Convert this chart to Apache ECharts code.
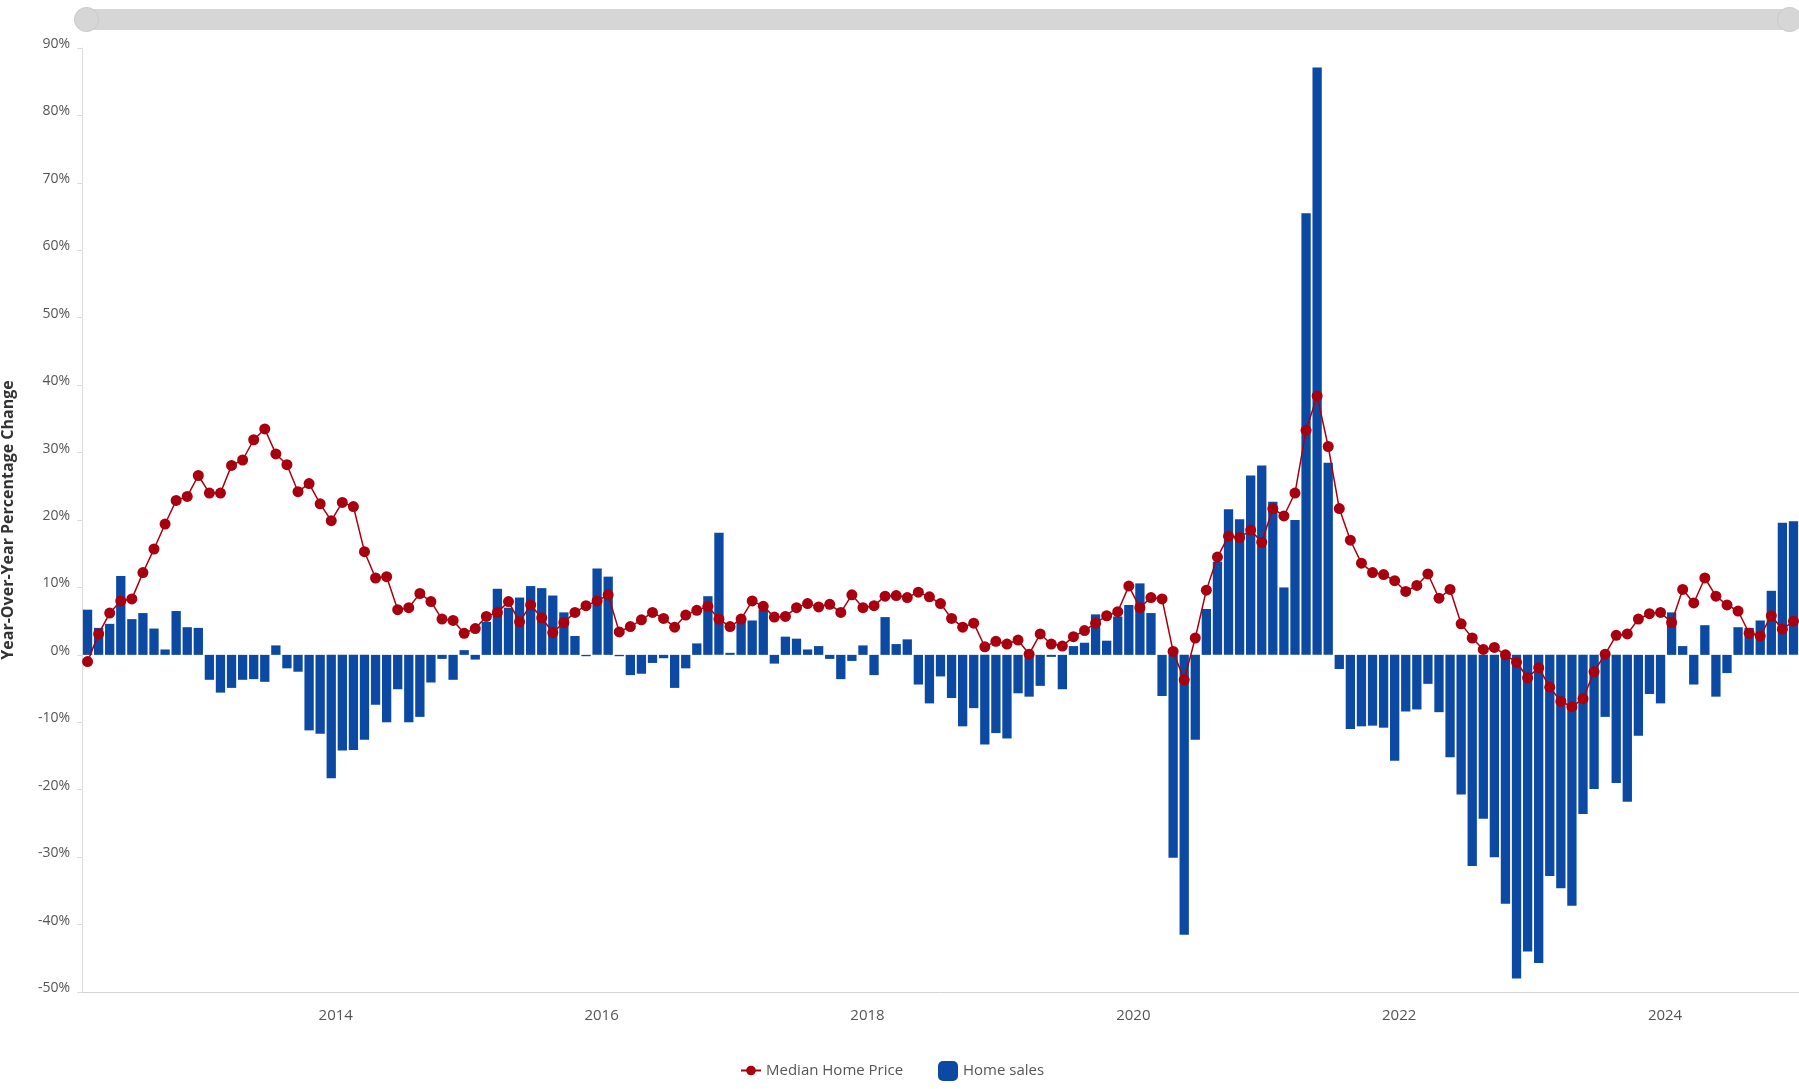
<!DOCTYPE html>
<html>
<head>
<meta charset="utf-8">
<style>
  html, body { margin: 0; padding: 0; background: #ffffff; }
  #chart { width: 1799px; height: 1089px; }
</style>
<script src="https://cdn.jsdelivr.net/npm/echarts@6/dist/echarts.min.js"></script>
</head>
<body>
<div id="chart"></div>
<script>
const months = [
  '2012-03','2012-04','2012-05','2012-06','2012-07','2012-08','2012-09','2012-10','2012-11','2012-12',
  '2013-01','2013-02','2013-03','2013-04','2013-05','2013-06','2013-07','2013-08','2013-09','2013-10','2013-11','2013-12',
  '2014-01','2014-02','2014-03','2014-04','2014-05','2014-06','2014-07','2014-08','2014-09','2014-10','2014-11','2014-12',
  '2015-01','2015-02','2015-03','2015-04','2015-05','2015-06','2015-07','2015-08','2015-09','2015-10','2015-11','2015-12',
  '2016-01','2016-02','2016-03','2016-04','2016-05','2016-06','2016-07','2016-08','2016-09','2016-10','2016-11','2016-12',
  '2017-01','2017-02','2017-03','2017-04','2017-05','2017-06','2017-07','2017-08','2017-09','2017-10','2017-11','2017-12',
  '2018-01','2018-02','2018-03','2018-04','2018-05','2018-06','2018-07','2018-08','2018-09','2018-10','2018-11','2018-12',
  '2019-01','2019-02','2019-03','2019-04','2019-05','2019-06','2019-07','2019-08','2019-09','2019-10','2019-11','2019-12',
  '2020-01','2020-02','2020-03','2020-04','2020-05','2020-06','2020-07','2020-08','2020-09','2020-10','2020-11','2020-12',
  '2021-01','2021-02','2021-03','2021-04','2021-05','2021-06','2021-07','2021-08','2021-09','2021-10','2021-11','2021-12',
  '2022-01','2022-02','2022-03','2022-04','2022-05','2022-06','2022-07','2022-08','2022-09','2022-10','2022-11','2022-12',
  '2023-01','2023-02','2023-03','2023-04','2023-05','2023-06','2023-07','2023-08','2023-09','2023-10','2023-11','2023-12',
  '2024-01','2024-02','2024-03','2024-04','2024-05','2024-06','2024-07','2024-08','2024-09','2024-10','2024-11','2024-12',
  '2025-01'
];

const homeSales = [
  6.7, 4.0, 4.6, 11.7, 5.3, 6.2, 3.9, 0.8, 6.5, 4.1,
  4.0, -3.7, -5.6, -4.9, -3.7, -3.6, -4.0, 1.4, -2.0, -2.5,
  -11.2, -11.7, -18.3, -14.2, -14.1, -12.6, -7.4, -10.0, -5.1, -10.0,
  -9.2, -4.1, -0.6, -3.7, 0.7, -0.7, 4.9, 9.8, 7.0, 8.5,
  10.2, 9.9, 8.8, 6.3, 2.8, -0.2, 12.8, 11.6, -0.2, -3.0,
  -2.8, -1.2, -0.5, -4.9, -2.0, 1.7, 8.7, 18.1, 0.3, 4.9,
  5.1, 6.7, -1.3, 2.7, 2.4, 0.8, 1.3, -0.6, -3.6, -0.9,
  1.4, -3.0, 5.6, 1.6, 2.3, -4.4, -7.2, -3.2, -6.4, -10.6,
  -7.9, -13.3, -11.6, -12.4, -5.7, -6.2, -4.6, -0.3, -5.1, 1.3,
  1.8, 6.0, 2.1, 5.7, 7.4, 10.6, 6.2, -6.1, -30.1, -41.5,
  -12.6, 6.8, 13.8, 21.6, 20.1, 26.6, 28.1, 22.7, 10.0, 20.0,
  65.5, 87.1, 28.5, -2.1, -11.0, -10.6, -10.5, -10.8, -15.7, -8.4,
  -8.1, -4.3, -8.5, -15.2, -20.7, -31.3, -24.3, -30.0, -36.9, -48.0,
  -44.0, -45.7, -32.8, -34.6, -37.2, -23.6, -19.9, -9.2, -19.0, -21.8,
  -12.0, -5.8, -7.2, 6.3, 1.3, -4.4, 4.4, -6.2, -2.7, 4.1,
  4.0, 5.1, 9.5, 19.6, 19.8
];

const medianPrice = [
  -1.0, 3.1, 6.2, 8.0, 8.3, 12.2, 15.7, 19.4, 22.9, 23.5,
  26.6, 24.0, 24.0, 28.1, 28.9, 31.9, 33.5, 29.8, 28.2, 24.2,
  25.4, 22.4, 19.9, 22.6, 22.0, 15.3, 11.4, 11.6, 6.7, 7.0,
  9.1, 7.9, 5.3, 5.1, 3.2, 3.9, 5.7, 6.3, 7.9, 4.9,
  7.4, 5.5, 3.3, 4.8, 6.3, 7.3, 8.0, 8.9, 3.4, 4.2,
  5.2, 6.3, 5.4, 4.1, 5.9, 6.6, 7.2, 5.3, 4.2, 5.3,
  8.0, 7.2, 5.6, 5.7, 7.0, 7.6, 7.1, 7.5, 6.3, 8.9,
  7.0, 7.3, 8.7, 8.8, 8.5, 9.3, 8.6, 7.6, 5.4, 4.1,
  4.7, 1.2, 2.0, 1.6, 2.2, 0.1, 3.1, 1.6, 1.3, 2.7,
  3.6, 4.7, 5.8, 6.4, 10.2, 7.0, 8.5, 8.3, 0.5, -3.7,
  2.5, 9.6, 14.5, 17.6, 17.4, 18.5, 16.7, 21.7, 20.6, 24.0,
  33.3, 38.4, 30.9, 21.7, 17.0, 13.6, 12.2, 11.9, 11.0, 9.4,
  10.3, 12.0, 8.4, 9.7, 4.6, 2.5, 0.8, 1.1, 0.0, -1.1,
  -3.4, -1.9, -4.8, -6.9, -7.7, -6.5, -2.5, 0.1, 2.9, 3.1,
  5.3, 6.1, 6.3, 4.8, 9.7, 7.7, 11.4, 8.7, 7.4, 6.5,
  3.2, 2.8, 5.8, 3.8, 5.0
];

const yearLabels = ['2014', '2016', '2018', '2020', '2022', '2024'];

const FONT = '"Open Sans", "Noto Sans", sans-serif';
const BLUE = '#0c49a3';
const RED = '#a8000f';

const chart = echarts.init(document.getElementById('chart'), null, { renderer: 'canvas' });

chart.setOption({
  backgroundColor: '#ffffff',
  animation: false,
  textStyle: { fontFamily: FONT },
  grid: { left: 82, right: 0, top: 48, bottom: 97, containLabel: false, outerBoundsMode: 'none' },
  dataZoom: [{
    type: 'slider',
    xAxisIndex: 0,
    start: 0,
    end: 100,
    left: 84,
    right: 10,
    top: 9,
    height: 21,
    showDetail: false,
    showDataShadow: false,
    brushSelect: false,
    moveHandleSize: 0,
    backgroundColor: '#dedede',
    fillerColor: '#d6d6d6',
    borderColor: 'transparent',
    handleIcon: 'circle',
    handleSize: '115%',
    handleStyle: { color: '#d6d6d6', borderColor: '#cacaca', borderWidth: 1 },
    emphasis: { handleStyle: { color: '#d6d6d6', borderColor: '#cacaca' } },
    dataBackground: { lineStyle: { opacity: 0 }, areaStyle: { opacity: 0 } },
    selectedDataBackground: { lineStyle: { opacity: 0 }, areaStyle: { opacity: 0 } }
  }],
  legend: [
    {
      data: ['Median Home Price'],
      left: 735,
      top: 1058,
      itemWidth: 20,
      itemHeight: 12,
      textStyle: { fontFamily: FONT, fontSize: 15, color: '#555' }
    },
    {
      data: [{ name: 'Home sales', icon: 'roundRect' }],
      left: 933,
      top: 1056,
      itemWidth: 20,
      itemHeight: 20,
      textStyle: { fontFamily: FONT, fontSize: 15, color: '#555' }
    }
  ],
  xAxis: {
    type: 'category',
    data: months,
    boundaryGap: true,
    axisLine: { onZero: false, lineStyle: { color: '#d4d4d4', width: 1 } },
    axisTick: { show: false },
    splitLine: { show: false },
    axisLabel: {
      interval: function (idx, val) {
        return val.slice(5) === '01' && yearLabels.indexOf(val.slice(0, 4)) >= 0;
      },
      formatter: function (val) { return '{y|' + val.slice(0, 4) + '}'; },
      margin: 16,
      rich: {
        y: { fontSize: 15, color: '#555', fontFamily: FONT, padding: [0, 0, 0, 9] }
      }
    }
  },
  yAxis: {
    type: 'value',
    min: -50,
    max: 90,
    interval: 10,
    name: 'Year-Over-Year Percentage Change',
    nameLocation: 'middle',
    nameGap: 66,
    nameRotate: 90,
    nameTextStyle: { fontFamily: FONT, fontSize: 16, fontWeight: 'bold', color: '#333' },
    axisLine: { show: true, lineStyle: { color: '#dcdcdc', width: 1 } },
    axisTick: { show: true, length: 5, lineStyle: { color: '#dcdcdc' } },
    splitLine: { show: false },
    axisLabel: {
      formatter: function (v) { return '{v|' + v + '%}'; },
      margin: 12,
      rich: {
        v: { fontSize: 14, color: '#555', fontFamily: FONT, padding: [0, 0, 8, 0] }
      }
    }
  },
  series: [
    {
      name: 'Home sales',
      type: 'bar',
      data: homeSales,
      barCategoryGap: '16%',
      itemStyle: { color: BLUE },
      z: 2
    },
    {
      name: 'Median Home Price',
      type: 'line',
      data: medianPrice,
      symbol: 'circle',
      symbolSize: 11,
      showAllSymbol: true,
      lineStyle: { color: RED, width: 1.5 },
      itemStyle: { color: RED, borderColor: RED, borderWidth: 0 },
      z: 5
    }
  ]
});
</script>
</body>
</html>
